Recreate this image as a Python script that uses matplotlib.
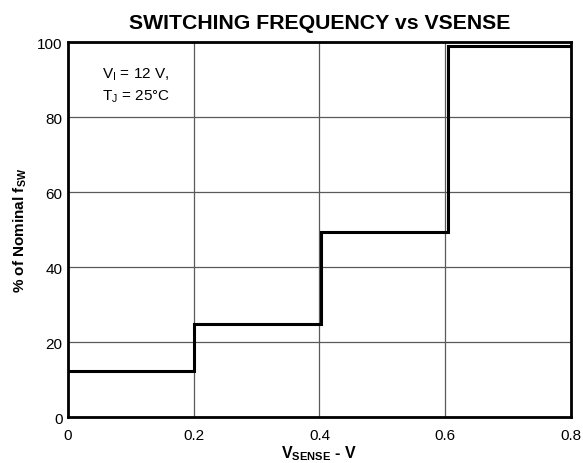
import matplotlib
matplotlib.use('Agg')
import matplotlib.pyplot as plt

plt.rcParams['font.family'] = ['Liberation Sans', 'DejaVu Sans']
plt.rcParams['mathtext.fontset'] = 'custom'
plt.rcParams['mathtext.rm'] = 'Liberation Sans'
plt.rcParams['mathtext.bf'] = 'Liberation Sans:bold'

# step edges (V) and level in each step (% of nominal fsw)
v_edges = [0.0, 0.201, 0.403, 0.604, 0.8]
pct_levels = [12.3, 24.8, 49.3, 99.0]

x_ticks = [0, 0.2, 0.4, 0.6, 0.8]
x_labels = ['0', '0.2', '0.4', '0.6', '0.8']
y_ticks = [0, 20, 40, 60, 80, 100]

fig = plt.figure(figsize=(5.83, 4.64), dpi=100)
ax = fig.add_axes([0.1166, 0.0991, 0.8628, 0.8082])

xs = []
ys = []
for i, lvl in enumerate(pct_levels):
    xs += [v_edges[i], v_edges[i + 1]]
    ys += [lvl, lvl]
ax.plot(xs, ys, color='black', lw=2.2, solid_joinstyle='miter')

ax.set_xlim(0, 0.8)
ax.set_ylim(0, 100)
ax.set_xticks(x_ticks)
ax.set_xticklabels(x_labels)
ax.set_yticks(y_ticks)
ax.tick_params(length=0, labelsize=11)
ax.tick_params(axis='x', pad=8)
ax.tick_params(axis='y', pad=4)
ax.grid(True, color='#5a5a5a', lw=0.9)
ax.set_axisbelow(True)
for s in ax.spines.values():
    s.set_linewidth(2)

ax.set_title('SWITCHING FREQUENCY vs VSENSE', fontsize=15.3, fontweight='bold', pad=10)
ax.set_xlabel(r'V$_{\mathbf{SENSE}}$ - V', fontsize=11.5, fontweight='bold', labelpad=1)
ax.set_ylabel(r'% of Nominal f$_{\mathbf{SW}}$', fontsize=11, fontweight='bold', labelpad=6)

ax.text(0.054, 90.7, r'V$_\mathregular{I}$ = 12 V,', fontsize=11, ha='left', va='baseline')
ax.text(0.054, 84.8, r'T$_\mathregular{J}$ = 25°C', fontsize=11, ha='left', va='baseline')

plt.savefig('out.png', dpi=100)
